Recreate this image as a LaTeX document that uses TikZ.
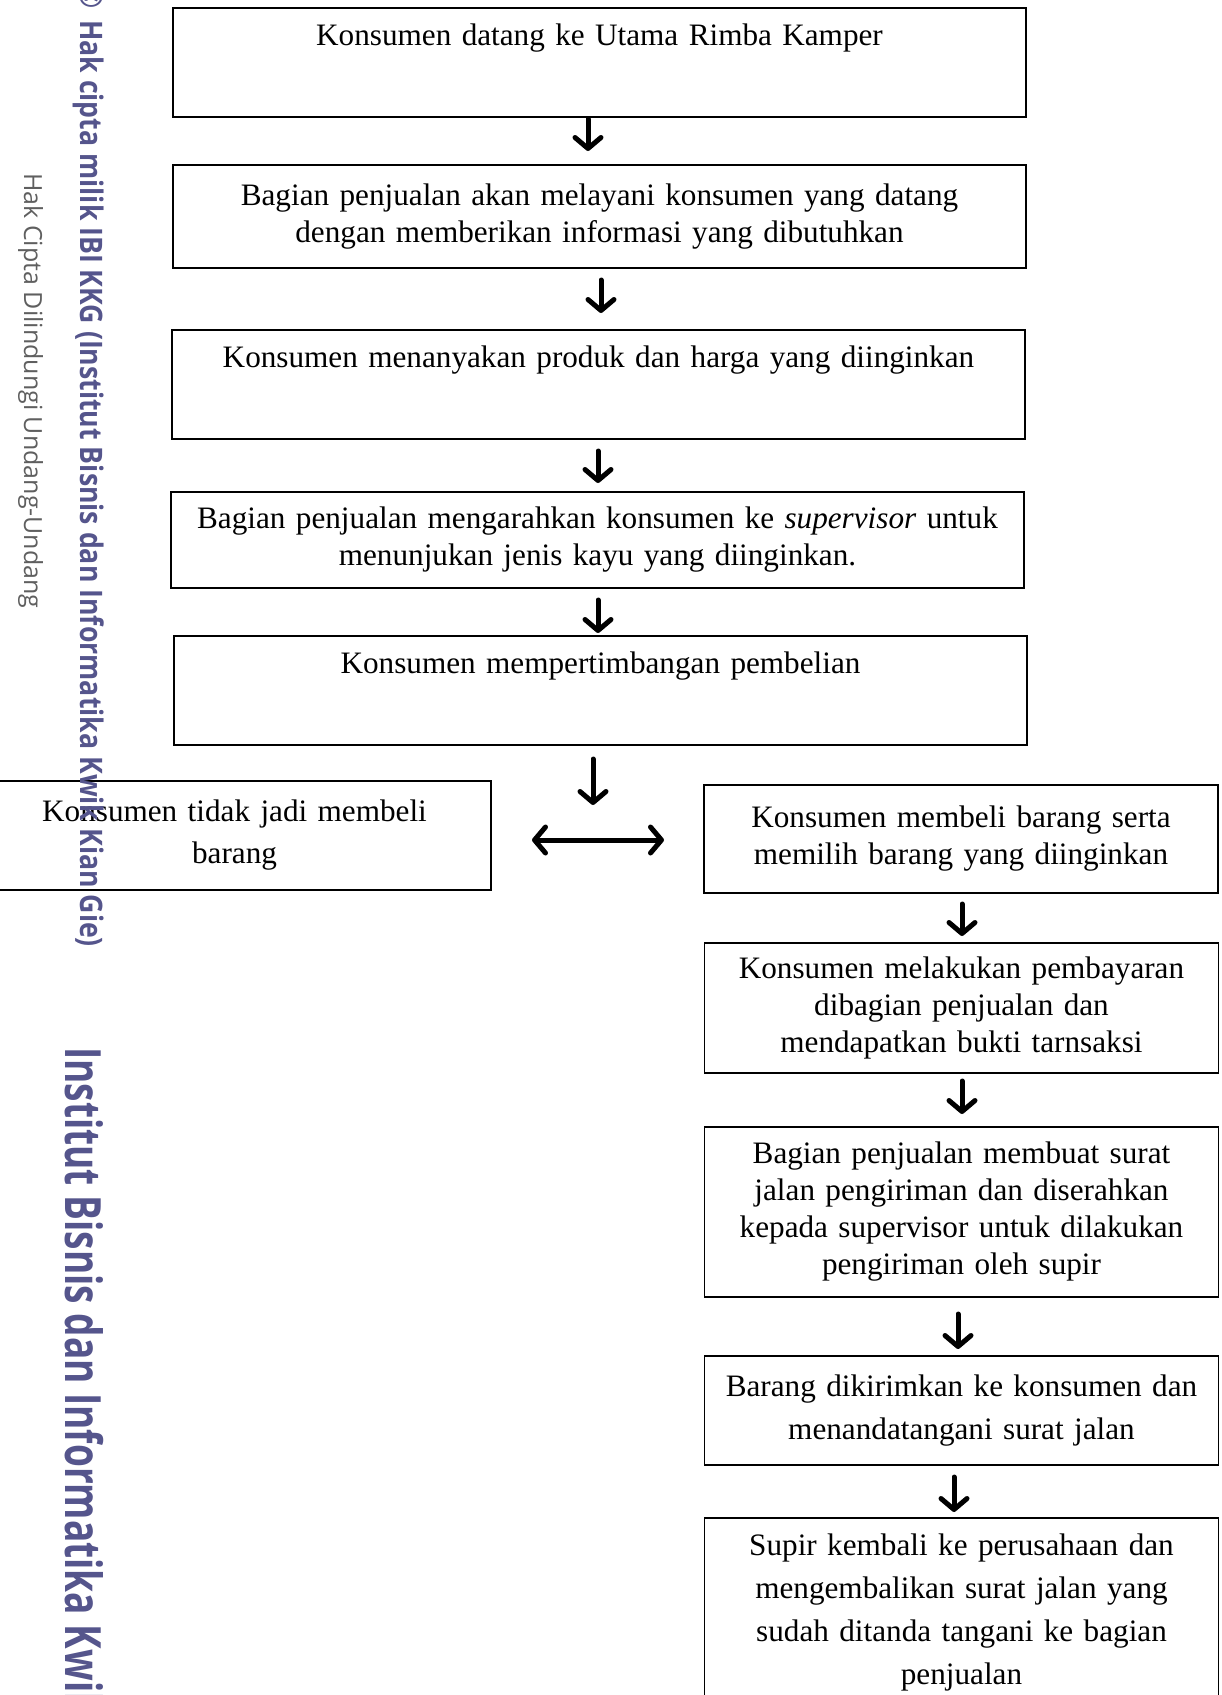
\documentclass[tikz,border=0pt]{standalone}
\usepackage{fontspec}
\setmainfont{Liberation Serif}
\newfontfamily\wmbiasa{Open Sans}
\newfontfamily\wmsempit{Open Sans}[FakeStretch=0.86]
\newfontfamily\wmbesar{Open Sans}[FakeStretch=0.74]
\usetikzlibrary{arrows.meta}

\definecolor{ibiungu}{RGB}{85,85,140}
\definecolor{ibiabu}{RGB}{95,95,95}
\def\teks{\fontsize{31.2}{37}\selectfont}

\begin{document}
\begin{tikzpicture}[x=1pt,y=-1pt]
    \tikzstyle{kotak}=[draw=black, line width=1.2pt, align=center, inner sep=0pt, font=\teks]
    \tikzstyle{kotak lebar}=[kotak, minimum width=853pt, text width=845pt]
    \tikzstyle{kotak kanan}=[kotak, minimum width=514pt, text width=505pt]
    \tikzstyle{panah}=[line width=5pt, line cap=round, -{Straight Barb[length=11pt,width=26pt,round]}]
    \tikzstyle{watermark}=[rotate=-90, inner sep=0pt, text=ibiungu]

    \useasboundingbox (0,0) rectangle (1222,1695);

    % Alur utama (kolom tengah)
    \node[kotak lebar, minimum height=109pt] (datang) at (599.5,62.5)
        {Konsumen datang ke Utama Rimba Kamper\\[18pt]\mbox{}};
    \node[kotak lebar, minimum height=103pt] (layani) at (599.5,216.5)
        {Bagian penjualan akan melayani konsumen yang datang\\dengan memberikan informasi yang dibutuhkan};
    \node[kotak lebar, minimum height=109pt] (tanya) at (598.5,384.5)
        {Konsumen menanyakan produk dan harga yang diinginkan\\[18pt]\mbox{}};
    \node[kotak lebar, minimum height=96pt] (arahkan) at (597.5,540)
        {Bagian penjualan mengarahkan konsumen ke \textit{supervisor} untuk\\menunjukan jenis kayu yang diinginkan.};
    \node[kotak lebar, minimum height=109pt] (timbang) at (600.5,690.5)
        {Konsumen mempertimbangan pembelian\\[18pt]\mbox{}};

    % Cabang kiri
    \node[kotak, minimum width=513pt, text width=505pt, minimum height=109pt] (batal) at (234.5,835.5)
        {Konsumen tidak jadi membeli\\[5pt]barang};

    % Cabang kanan
    \node[kotak kanan, minimum height=108pt] (beli) at (961,839)
        {Konsumen membeli barang serta\\memilih barang yang diinginkan};
    \node[kotak kanan, minimum height=130pt] (bayar) at (961.5,1008)
        {Konsumen melakukan pembayaran\\dibagian penjualan dan\\mendapatkan bukti tarnsaksi};
    \node[kotak kanan, minimum height=170pt] (surat) at (961.5,1212)
        {Bagian penjualan membuat surat\\jalan pengiriman dan diserahkan\\kepada supervisor untuk dilakukan\\pengiriman oleh supir};
    \node[kotak kanan, minimum height=109pt] (kirim) at (961.5,1410.5)
        {Barang dikirimkan ke konsumen dan\\[6pt]menandatangani surat jalan};
    \node[kotak kanan, minimum height=189pt] (kembali) at (961.5,1612.5)
        {Supir kembali ke perusahaan dan\\[6pt]mengembalikan surat jalan yang\\[6pt]sudah ditanda tangani ke bagian\\[6pt]penjualan};

    % Panah-panah
    \foreach \nama/\x/\ya/\yb in {1/588/119/151, 2/601/280/313, 3/598/451/483,
        4/598/600/633, 5/593/759/805, 6/962/904/936, 7/962/1081/1114,
        8/958/1314/1349, 9/954/1477/1512}
    {
        \coordinate (p\nama-a) at (\x,\ya);
        \coordinate (p\nama-b) at (\x,\yb);
        \draw[panah] (p\nama-a) -- (p\nama-b);
    }
    \coordinate (dua-a) at (532,840);
    \coordinate (dua-b) at (664,840);
    \draw[panah, {Straight Barb[length=11pt,width=26pt,round]}-{Straight Barb[length=11pt,width=26pt,round]}] (dua-a) -- (dua-b);

    % Tanda air di tepi kiri
    \node[watermark, font=\wmsempit\bfseries\fontsize{31}{31}\selectfont, anchor=base east] (wm0) at (80,9) {\textcopyright};
    \node[watermark, font=\wmsempit\bfseries\fontsize{31}{31}\selectfont, anchor=base west] (wm1) at (80,20)
        {Hak cipta milik IBI KKG (Institut Bisnis dan Informatika Kwik Kian Gie)};
    \node[watermark, text=ibiabu, font=\wmbiasa\fontsize{25}{25}\selectfont, anchor=base west] (wm2) at (24,173)
        {Hak Cipta Dilindungi Undang-Undang};
    \node[watermark, font=\wmbesar\bfseries\fontsize{50}{50}\selectfont, anchor=base west] (wm3) at (65,1047)
        {Institut Bisnis dan Informatika Kwik Kian Gie};
\end{tikzpicture}
\end{document}
